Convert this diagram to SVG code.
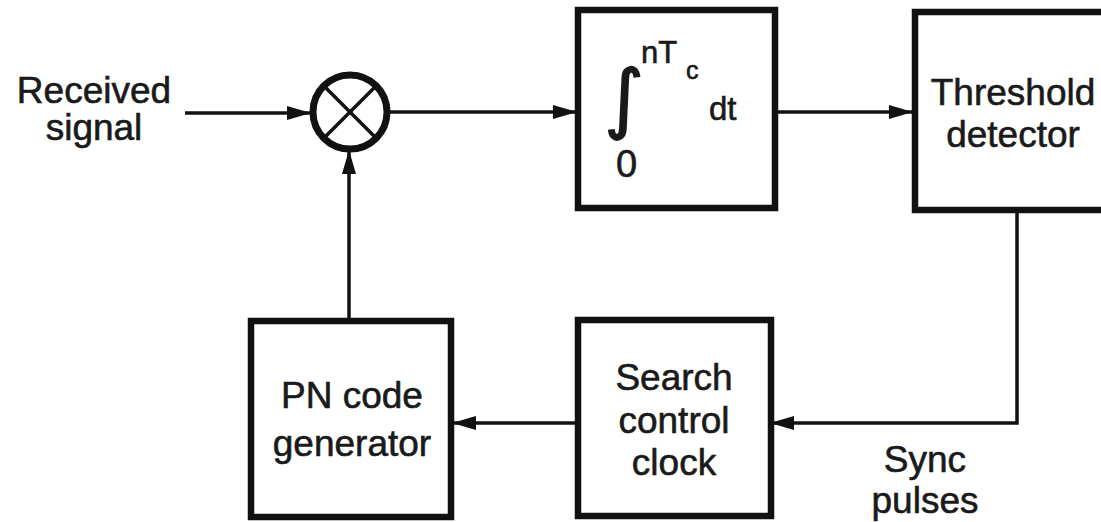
<svg xmlns="http://www.w3.org/2000/svg" width="1101" height="522" viewBox="0 0 1101 522">
<defs>
<style>
.box{fill:#fff;stroke:#111;stroke-width:6.5}
.ln{fill:none;stroke:#111;stroke-width:3.5}
.f{font-family:"Liberation Sans",Arial,sans-serif;fill:#1a1a1a;stroke:#1a1a1a;stroke-width:0.6}
.t{font-size:37px;text-anchor:middle}
</style>
<marker id="ah" viewBox="0 0 24 14" refX="23" refY="7" markerWidth="24" markerHeight="14" markerUnits="userSpaceOnUse" orient="auto">
<path d="M0,0 L24,7 L0,14 Z" fill="#111"/>
</marker>
</defs>
<g id="connectors">
<line class="ln" x1="185" y1="113" x2="310" y2="113" marker-end="url(#ah)"/>
<line class="ln" x1="390" y1="112" x2="576" y2="112" marker-end="url(#ah)"/>
<line class="ln" x1="776" y1="112" x2="912" y2="112" marker-end="url(#ah)"/>
<polyline class="ln" points="1017,212 1017,423 771,423" marker-end="url(#ah)"/>
<line class="ln" x1="575" y1="423" x2="453" y2="423" marker-end="url(#ah)"/>
<line class="ln" x1="349" y1="318" x2="349" y2="151" marker-end="url(#ah)"/>
</g>
<g id="received">
<text class="f t" x="94" y="103">Received</text>
<text class="f t" x="94" y="140">signal</text>
</g>
<g id="mixer">
<circle cx="350" cy="112" r="37" fill="#fff" stroke="#111" stroke-width="7"/>
<line class="ln" x1="325" y1="87" x2="375" y2="137"/>
<line class="ln" x1="375" y1="87" x2="325" y2="137"/>
</g>
<g id="integrator">
<rect class="box" x="578" y="10" width="197" height="198"/>
<text x="624" y="124" style="font-family:'DejaVu Sans',sans-serif;font-size:76px;fill:#1a1a1a;stroke:#1a1a1a;stroke-width:1.5;text-anchor:middle">∫</text>
<text class="f" x="641" y="63" style="font-size:31px">nT</text>
<text class="f" x="686" y="79" style="font-size:25px">c</text>
<text class="f" x="709" y="120" style="font-size:33px">dt</text>
<text class="f" x="616" y="177" style="font-size:38px">0</text>
</g>
<g id="threshold">
<rect class="box" x="915" y="12" width="200" height="198"/>
<text class="f t" x="1013" y="105">Threshold</text>
<text class="f t" x="1013" y="147">detector</text>
</g>
<g id="search">
<rect class="box" x="578" y="320" width="193" height="196"/>
<text class="f t" x="674" y="390">Search</text>
<text class="f t" x="674" y="433">control</text>
<text class="f t" x="674" y="475">clock</text>
</g>
<g id="pn">
<rect class="box" x="251" y="321" width="200" height="196"/>
<text class="f t" x="352" y="408">PN code</text>
<text class="f t" x="352" y="456">generator</text>
</g>
<g id="sync">
<text class="f t" x="925" y="472">Sync</text>
<text class="f t" x="925" y="513">pulses</text>
</g>
</svg>
